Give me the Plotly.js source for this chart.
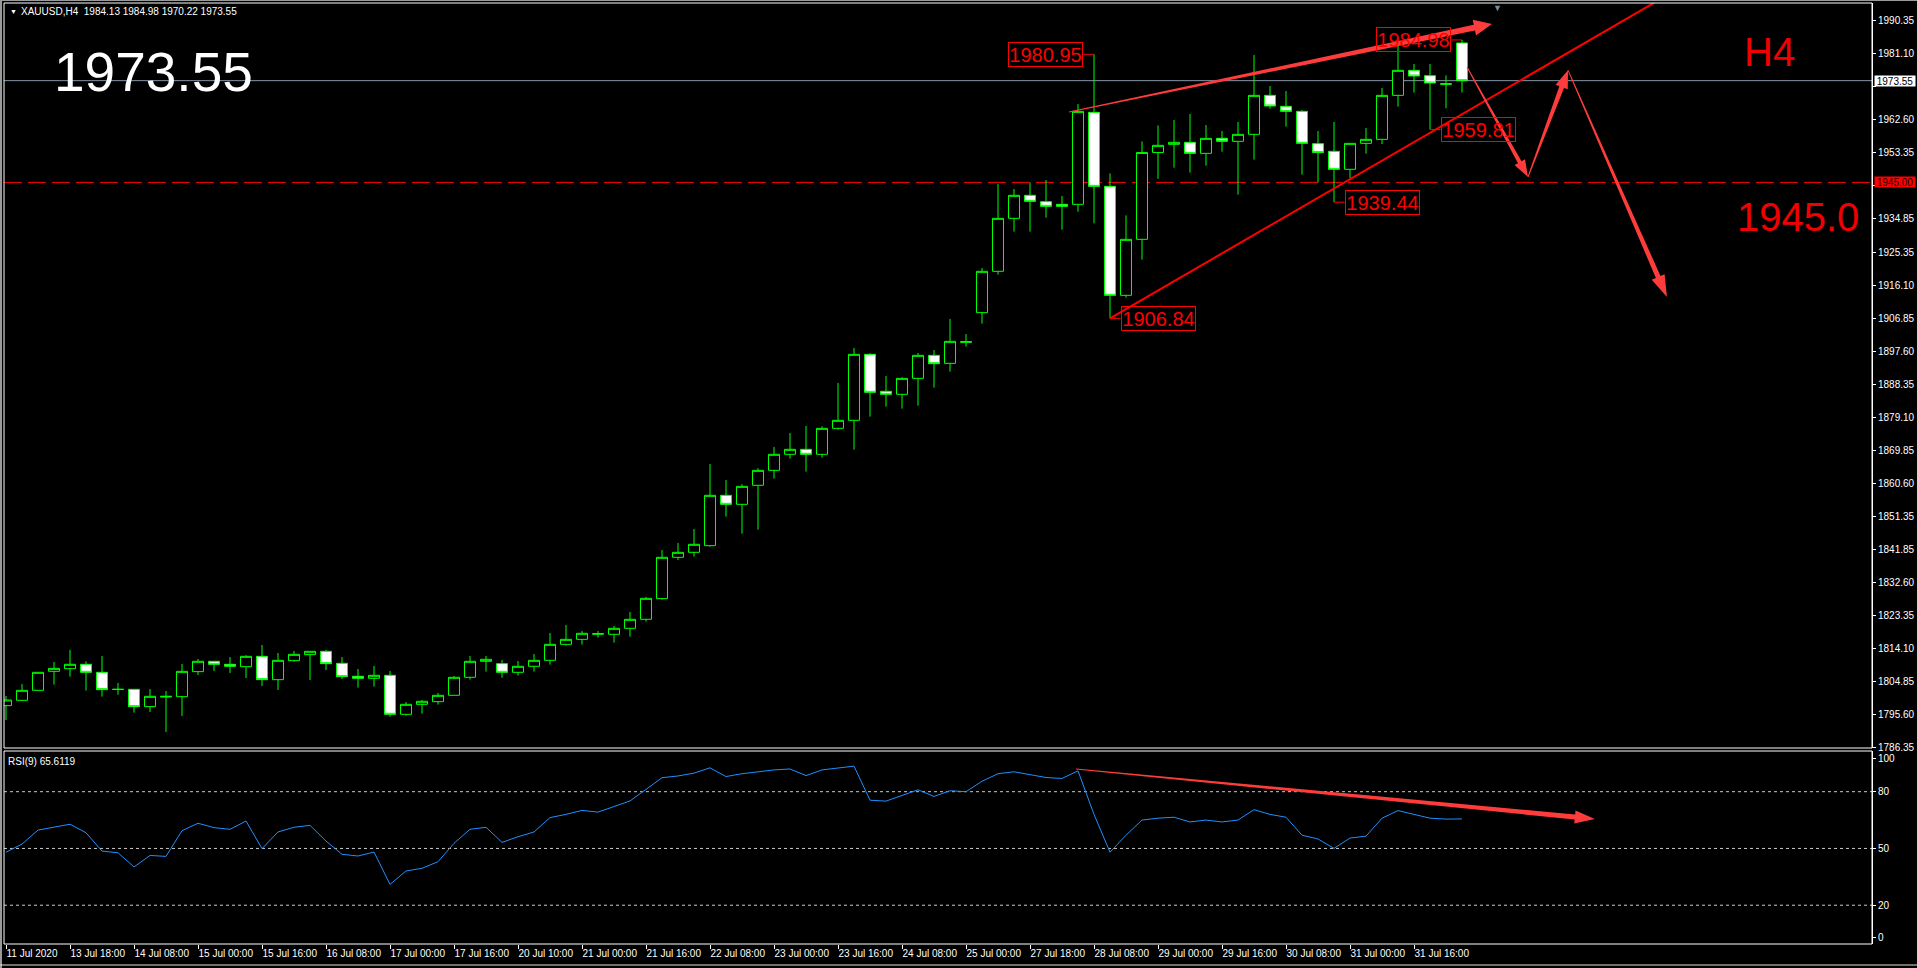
<!DOCTYPE html>
<html><head><meta charset="utf-8">
<script src="https://cdn.plot.ly/plotly-3.0.1.min.js"></script>
<style>html,body{margin:0;padding:0;background:#000;overflow:hidden}#chart{width:1917px;height:968px}</style>
</head><body><div id="chart"></div>
<script>
// ---------------- data ----------------
const openP = [1798.14,1799.63,1802.44,1807.77,1808.52,1809.74,1807.49,1802.72,1802.72,1797.86,
1800.55,1800.66,1807.68,1810.58,1809.74,1809.08,1811.98,1805.43,1810.77,1812.45,
1813.39,1810.02,1806.37,1805.81,1806.65,1795.71,1798.51,1799.26,1801.04,1806.09,
1810.58,1809.93,1807.49,1809.18,1810.86,1815.35,1816.75,1818.16,1818.16,1819.84,
1822.37,1828.17,1839.77,1841.17,1843.04,1857.17,1854.64,1859.98,1864.18,1868.68,
1870.08,1868.68,1875.97,1878.22,1896.74,1886.36,1885.52,1890.00,1896.46,1894.21,
1900.10,1908.44,1920.04,1934.91,1941.37,1939.59,1938.84,1938.84,1964.66,1943.89,
1913.30,1929.02,1953.40,1955.68,1956.24,1953.15,1957.36,1956.52,1958.49,1969.43,
1966.35,1964.94,1955.87,1953.72,1948.67,1955.96,1957.08,1969.43,1976.45,1974.95,
1972.50,1984.13];
const highP = [1800.85,1804.20,1807.55,1810.40,1813.80,1810.58,1812.08,1804.50,1802.80,1802.80,
1802.25,1809.83,1811.24,1810.65,1811.80,1812.27,1815.16,1812.92,1813.48,1813.39,
1813.76,1811.80,1808.43,1809.27,1807.87,1799.17,1799.73,1801.70,1806.46,1812.08,
1812.08,1810.96,1810.67,1812.64,1818.53,1820.78,1819.09,1819.09,1820.50,1824.43,
1828.64,1841.83,1843.79,1847.72,1865.96,1861.47,1860.26,1864.75,1870.73,1874.66,
1876.63,1876.53,1888.70,1898.52,1897.02,1890.66,1890.29,1897.12,1897.96,1906.66,
1902.45,1920.97,1944.55,1943.14,1944.92,1945.67,1941.18,1967.00,1980.95,1947.54,
1935.75,1956.52,1961.00,1962.51,1964.19,1961.10,1959.42,1961.95,1980.75,1972.05,
1970.65,1965.32,1959.42,1961.95,1955.96,1960.27,1971.49,1983.56,1978.23,1978.23,
1975.05,1984.98];
const lowP = [1794.10,1799.50,1802.35,1804.03,1806.27,1802.35,1800.66,1801.22,1796.17,1796.36,
1790.75,1795.24,1806.74,1807.87,1807.30,1805.90,1803.66,1802.53,1810.49,1805.34,
1808.15,1805.62,1803.19,1803.47,1795.05,1795.33,1795.89,1798.42,1800.95,1805.43,
1807.68,1806.00,1806.56,1807.68,1809.65,1814.98,1815.26,1817.22,1815.82,1817.50,
1821.71,1827.89,1839.02,1839.95,1842.76,1851.18,1846.41,1847.53,1861.85,1867.46,
1863.81,1867.74,1875.60,1869.98,1879.25,1882.05,1881.49,1882.33,1887.39,1891.88,
1898.89,1905.35,1919.10,1931.17,1931.17,1935.10,1931.73,1936.78,1933.51,1906.84,
1912.65,1923.31,1946.00,1949.13,1947.73,1949.69,1953.62,1941.55,1951.38,1965.69,
1960.64,1947.17,1945.00,1939.44,1946.14,1953.06,1955.77,1966.25,1970.18,1959.81,
1965.80,1970.22];
const closeP = [1799.73,1802.44,1807.49,1808.60,1809.74,1807.49,1802.63,1802.70,1797.86,1800.76,
1800.75,1807.77,1810.58,1809.74,1809.18,1811.98,1805.43,1810.86,1812.54,1813.39,
1809.92,1806.28,1805.81,1806.65,1795.71,1798.51,1799.36,1801.04,1806.09,1810.58,
1811.14,1807.49,1809.18,1810.86,1815.35,1816.75,1818.44,1818.35,1819.84,1822.37,
1828.26,1839.77,1841.17,1843.42,1857.17,1854.64,1859.69,1864.18,1868.68,1870.08,
1868.68,1875.97,1878.22,1896.74,1886.08,1885.52,1890.00,1896.46,1894.12,1900.39,
1900.30,1920.04,1934.91,1941.37,1939.68,1938.28,1938.28,1964.94,1943.89,1913.30,
1929.02,1953.40,1955.40,1956.24,1953.15,1957.36,1956.52,1958.49,1969.43,1966.44,
1964.94,1955.96,1953.40,1948.67,1955.96,1957.08,1969.43,1976.45,1974.86,1972.89,
1972.70,1973.55];
const rsiVals = [48.0,52.3,59.7,61.2,62.8,58.3,48.6,47.7,40.2,46.3,
45.8,59.4,63.3,61.0,60.1,64.5,49.9,58.7,61.2,62.2,
53.9,46.9,46.0,48.1,31.0,38.1,39.5,43.0,52.7,60.1,
61.2,53.2,56.2,58.7,66.3,68.0,70.1,69.2,72.0,75.1,
81.2,87.4,88.3,89.8,92.6,88.0,89.5,90.5,91.5,92.0,
88.5,91.5,92.5,93.5,75.5,75.0,78.0,81.0,77.5,80.5,
80.0,85.5,89.5,90.5,89.0,87.5,87.0,91.0,68.0,48.0,
57.0,65.0,66.0,66.5,64.0,65.0,64.0,65.0,70.5,68.0,
66.5,57.0,55.0,50.0,55.5,56.5,66.0,70.0,68.0,66.0,
65.5,65.6119];
const xTickLabels = ["11 Jul 2020","13 Jul 18:00","14 Jul 08:00","15 Jul 00:00","15 Jul 16:00",
"16 Jul 08:00","17 Jul 00:00","17 Jul 16:00","20 Jul 10:00","21 Jul 00:00","21 Jul 16:00",
"22 Jul 08:00","23 Jul 00:00","23 Jul 16:00","24 Jul 08:00","25 Jul 00:00","27 Jul 18:00",
"28 Jul 08:00","29 Jul 00:00","29 Jul 16:00","30 Jul 08:00","31 Jul 00:00","31 Jul 16:00"];
const priceTicks = [1990.35,1981.10,1971.85,1962.60,1953.35,1944.10,1934.85,1925.35,1916.10,
1906.85,1897.60,1888.35,1879.10,1869.85,1860.60,1851.35,1841.85,1832.60,1823.35,1814.10,
1804.85,1795.60,1786.35];
const rsiLevels = [80, 50, 20];
const targetLevel = 1945.0;
const symbolName = "XAUUSD,H4";
const timeframeText = "H4";
const rsiName = "RSI(9)";
// price labels drawn on the chart: bar index, which value, side of the box
const markLabels = [
  {bar:68, field:'high', side:-1},
  {bar:69, field:'low',  side:1},
  {bar:91, field:'high', side:-1},
  {bar:89, field:'low',  side:1},
  {bar:83, field:'low',  side:1}
];
// hand-drawn arrows (bar index, price) / (bar index, rsi)
const mainArrows = [
  {from:[66.44,1964.75], to:[92.875,1989.45], w0:1, w1:6, hl:18, hw:16},
  {from:[91.31,1977.40], to:[95.125,1946.50], w0:1, w1:4, hl:17, hw:12},
  {from:[95.125,1946.50], to:[97.625,1976.50], w0:1, w1:5, hl:18, hw:13},
  {from:[97.625,1976.50], to:[103.81,1912.80], w0:1, w1:5, hl:22, hw:14}
];
const rsiArrows = [
  {from:[66.875,92.0], to:[99.3,65.6], w0:1, w1:5, hl:20, hw:13}
];
const trendLine = {from:[69,1906.84], through:[102.875,1995.07]};

// ---------------- geometry ----------------
const W = 1917, H = 968;
const L = 4, R = 1872, T = 3, B = 944, mainBot = 748, rsiTop = 751;
const xr = [-0.125, 116.625];
const yr = [1786.25, 1995.35];
const rr = [-0.5, 101.5];
const pw = R - L, ph = B - T;
const x2px = b => L + (b - xr[0]) / (xr[1] - xr[0]) * pw;
const px2x = p => xr[0] + (p - L) / pw * (xr[1] - xr[0]);
const y2px = v => T + (yr[1] - v) / (yr[1] - yr[0]) * (mainBot - T);
const px2y = p => yr[1] - (p - T) / (mainBot - T) * (yr[1] - yr[0]);
const r2px = v => rsiTop + (rr[1] - v) / (rr[1] - rr[0]) * (B - rsiTop);
const px2r = p => rr[1] - (p - rsiTop) / (B - rsiTop) * (rr[1] - rr[0]);
const paperX = p => (p - L) / pw;
const paperY = p => (B - p) / ph;

const barIndex = openP.map((_, i) => i);
const last = closeP.length - 1;

function arrowPath(a, toPy, fromPy) {
  const x0 = x2px(a.from[0]), y0 = toPy(a.from[1]);
  const x1 = x2px(a.to[0]), y1 = toPy(a.to[1]);
  const dx = x1 - x0, dy = y1 - y0, len = Math.hypot(dx, dy);
  const ux = dx / len, uy = dy / len, nx = -uy, ny = ux;
  const ex = x1 - ux * a.hl, ey = y1 - uy * a.hl;
  const pts = [
    [x0 + nx * a.w0 / 2, y0 + ny * a.w0 / 2],
    [ex + nx * a.w1 / 2, ey + ny * a.w1 / 2],
    [ex + nx * a.hw / 2, ey + ny * a.hw / 2],
    [x1, y1],
    [ex - nx * a.hw / 2, ey - ny * a.hw / 2],
    [ex - nx * a.w1 / 2, ey - ny * a.w1 / 2],
    [x0 - nx * a.w0 / 2, y0 - ny * a.w0 / 2]
  ];
  return 'M' + pts.map(p => px2x(p[0]) + ',' + fromPy(p[1])).join(' L') + ' Z';
}

const shapes = [];
// bid line & target level
shapes.push({type:'line', xref:'x domain', x0:0, x1:1, yref:'y', y0:closeP[last], y1:closeP[last],
  line:{color:'#8796a8', width:1}, layer:'below'});
shapes.push({type:'line', xref:'x domain', x0:0, x1:1, yref:'y', y0:targetLevel, y1:targetLevel,
  line:{color:'#ff0000', width:1, dash:'18px,6px'}, layer:'below'});
// RSI levels
rsiLevels.forEach(v => shapes.push({type:'line', xref:'x domain', x0:0, x1:1, yref:'y2', y0:v, y1:v,
  line:{color:'#c8c8c8', width:1, dash:'3px,3px'}, layer:'below'}));
// trend line
{
  const s = (trendLine.through[1] - trendLine.from[1]) / (trendLine.through[0] - trendLine.from[0]);
  const xe = trendLine.through[0] + 3;
  shapes.push({type:'line', xref:'x', yref:'y', x0:trendLine.from[0], y0:trendLine.from[1],
    x1:xe, y1:trendLine.from[1] + s * (xe - trendLine.from[0]), line:{color:'#ff0000', width:2}});
}
mainArrows.forEach(a => shapes.push({type:'path', xref:'x', yref:'y', path:arrowPath(a, y2px, px2y),
  fillcolor:'#ff3c3c', line:{width:0}}));
rsiArrows.forEach(a => shapes.push({type:'path', xref:'x', yref:'y2', path:arrowPath(a, r2px, px2r),
  fillcolor:'#ff3c3c', line:{width:0}}));
// connectors of the price labels
markLabels.forEach(m => {
  const v = (m.field === 'high' ? highP : lowP)[m.bar];
  shapes.push({type:'line', xref:'x', yref:'y', x0:m.bar, x1:m.bar + m.side * 0.66, y0:v, y1:v,
    line:{color:'#ff0000', width:1}});
});
// frames
shapes.push({type:'rect', xref:'x domain', yref:'y domain', x0:0, x1:1, y0:0, y1:1, line:{color:'#ffffff', width:1}});
shapes.push({type:'rect', xref:'x domain', yref:'y2 domain', x0:0, x1:1, y0:0, y1:1, line:{color:'#ffffff', width:1}});
shapes.push({type:'line', xref:'paper', yref:'paper', x0:paperX(1), x1:paperX(1), y0:paperY(968), y1:paperY(0),
  line:{color:'#9a9a9a', width:2}});
shapes.push({type:'line', xref:'paper', yref:'paper', x0:paperX(0), x1:paperX(W), y0:paperY(0.5), y1:paperY(0.5),
  line:{color:'#9a9a9a', width:1}});
shapes.push({type:'line', xref:'paper', yref:'paper', x0:paperX(0), x1:paperX(W), y0:paperY(965), y1:paperY(965),
  line:{color:'#e0e0e0', width:1}});

const annFont = 'Liberation Sans, Arial, sans-serif';
const annotations = [];
annotations.push({xref:'paper', yref:'paper', x:paperX(8), y:paperY(12), xanchor:'left', yanchor:'middle',
  text:'\u25BC', showarrow:false, font:{family:annFont, size:7, color:'#ffffff'}});
annotations.push({xref:'paper', yref:'paper', x:paperX(19), y:paperY(12), xanchor:'left', yanchor:'middle',
  text:symbolName + '\u00a0\u00a0' + [openP[last], highP[last], lowP[last], closeP[last]].map(v => v.toFixed(2)).join(' '),
  showarrow:false, font:{family:annFont, size:10, color:'#ffffff'}});
annotations.push({xref:'paper', yref:'paper', x:paperX(52), y:paperY(72), xanchor:'left', yanchor:'middle',
  text:closeP[last].toFixed(2), showarrow:false, font:{family:annFont, size:55, color:'#ffffff'}});
annotations.push({xref:'paper', yref:'paper', x:paperX(1769), y:paperY(52), xanchor:'center', yanchor:'middle',
  text:timeframeText, showarrow:false, font:{family:annFont, size:40, color:'#f00000'}});
annotations.push({xref:'paper', yref:'paper', x:paperX(1798), y:paperY(217), xanchor:'center', yanchor:'middle',
  text:targetLevel.toFixed(1), showarrow:false, font:{family:annFont, size:40, color:'#f00000'}});
annotations.push({xref:'paper', yref:'paper', x:paperX(6), y:paperY(761), xanchor:'left', yanchor:'middle',
  text:rsiName + ' ' + rsiVals[last].toFixed(4), showarrow:false, font:{family:annFont, size:10, color:'#ffffff'}});
annotations.push({xref:'paper', yref:'y', x:1, xshift:2, y:closeP[last], xanchor:'left', yanchor:'middle',
  text:closeP[last].toFixed(2), showarrow:false, bgcolor:'#ffffff', width:40, height:10, borderpad:0,
  font:{family:annFont, size:10, color:'#000000'}});
annotations.push({xref:'paper', yref:'y', x:1, xshift:2, y:targetLevel, xanchor:'left', yanchor:'middle',
  text:targetLevel.toFixed(2), showarrow:false, bgcolor:'#ff0000', width:40, height:10, borderpad:0,
  font:{family:annFont, size:10, color:'#200000'}});
annotations.push({xref:'x', yref:'paper', x:px2x(1497), y:paperY(1), xanchor:'center', yanchor:'top',
  text:'\u25BC', showarrow:false, font:{family:annFont, size:9, color:'#7f8c99'}});
markLabels.forEach(m => {
  const v = (m.field === 'high' ? highP : lowP)[m.bar];
  annotations.push({xref:'x', yref:'y', x:m.bar + m.side * 0.66, y:v,
    xanchor: m.side < 0 ? 'right' : 'left', yanchor:'middle', text:v.toFixed(2), showarrow:false,
    bordercolor:'#ff0000', borderwidth:1, borderpad:0, width:73, height:23,
    font:{family:annFont, size:20, color:'#ff0000'}});
});

const traces = [
  {type:'candlestick', x:barIndex, open:openP, high:highP, low:lowP, close:closeP,
   xaxis:'x', yaxis:'y', whiskerwidth:0, hoverinfo:'skip', showlegend:false,
   increasing:{line:{color:'#00ff00', width:1}, fillcolor:'#000000'},
   decreasing:{line:{color:'#00ff00', width:1}, fillcolor:'#ffffff'}},
  {type:'scatter', mode:'lines', x:barIndex, y:rsiVals, xaxis:'x', yaxis:'y2',
   line:{color:'#1e90ff', width:1}, hoverinfo:'skip', showlegend:false}
];

// tick labels sitting under the price boxes are hidden (as in the reference)
const covered = v => Math.abs(v - closeP[last]) < 3 || Math.abs(v - targetLevel) < 3;
const axFont = {family:annFont, size:10, color:'#ffffff'};
const layout = {
  width:W, height:H, paper_bgcolor:'#000000', plot_bgcolor:'#000000',
  margin:{l:L, r:W - R, t:T, b:H - B, pad:0},
  showlegend:false, boxgap:0.3125, boxgroupgap:0, hovermode:false,
  xaxis:{range:xr, anchor:'y2', showgrid:false, zeroline:false, showline:false,
    rangeslider:{visible:false}, tickmode:'array',
    tickvals:xTickLabels.map((_, k) => k * 4), ticktext:xTickLabels,
    ticks:'outside', ticklen:4, tickcolor:'#ffffff', tickfont:axFont, ticklabelposition:'outside right'},
  yaxis:{domain:[(B - mainBot) / ph, 1], range:yr, side:'right', anchor:'x', showgrid:false, zeroline:false,
    tickmode:'array', tickvals:priceTicks, ticktext:priceTicks.map(v => covered(v) ? '' : v.toFixed(2)),
    ticks:'outside', ticklen:3, tickcolor:'#ffffff', tickfont:axFont, showline:true, linecolor:'#ffffff'},
  yaxis2:{domain:[0, (B - rsiTop) / ph], range:rr, side:'right', anchor:'x', showgrid:false, zeroline:false,
    tickmode:'array', tickvals:[97.8, 80, 50, 20, 3.2], ticktext:['100','80','50','20','0'],
    ticks:'outside', ticklen:3, tickcolor:'#ffffff', tickfont:axFont, showline:true, linecolor:'#ffffff'},
  shapes:shapes, annotations:annotations
};
Plotly.newPlot('chart', traces, layout, {staticPlot:true, displayModeBar:false});
</script>
</body></html>
